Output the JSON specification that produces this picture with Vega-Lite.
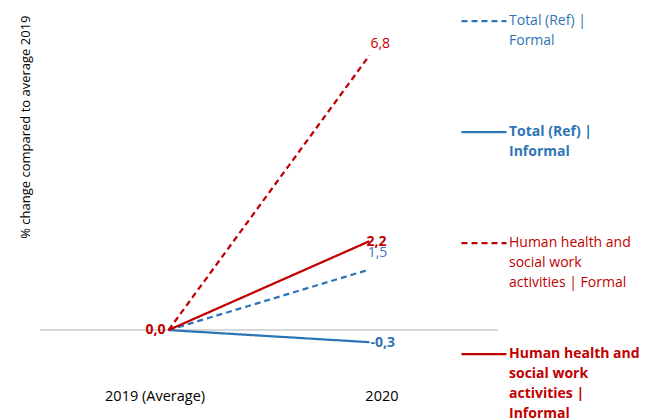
{
  "$schema": "https://vega.github.io/schema/vega-lite/v6.json",
  "width": 458,
  "height": 349,
  "autosize": "none",
  "padding": {"left": 40, "top": 15, "right": 160, "bottom": 55},
  "background": "white",
  "config": {"view": {"stroke": null}, "font": "Open Sans"},
  "data": {
    "values": [
      {"series": "Total (Ref) | Formal", "year": "2019 (Average)", "value": 0, "label": "0,0"},
      {"series": "Total (Ref) | Formal", "year": "2020", "value": 1.5, "label": "1,5"},
      {"series": "Total (Ref) | Informal", "year": "2019 (Average)", "value": 0, "label": "0,0"},
      {"series": "Total (Ref) | Informal", "year": "2020", "value": -0.3, "label": "-0,3"},
      {"series": "Human health and social work activities | Formal", "year": "2019 (Average)", "value": 0, "label": "0,0"},
      {"series": "Human health and social work activities | Formal", "year": "2020", "value": 6.8, "label": "6,8"},
      {"series": "Human health and social work activities | Informal", "year": "2019 (Average)", "value": 0, "label": "0,0"},
      {"series": "Human health and social work activities | Informal", "year": "2020", "value": 2.2, "label": "2,2"}
    ]
  },
  "layer": [
    {
      "mark": {"type": "rule", "color": "#d9d9d9", "strokeWidth": 1},
      "encoding": {"y": {"datum": 0, "type": "quantitative", "scale": {"domain": [-0.84, 7.8], "nice": false, "zero": false}}}
    },
    {
      "mark": {"type": "line", "strokeCap": "butt"},
      "encoding": {
        "x": {"field": "year", "type": "ordinal", "sort": ["2019 (Average)", "2020"], "scale": {"type": "point", "padding": 0.64},
          "axis": {"title": null, "labelAngle": 0, "ticks": false, "domain": false, "labelPadding": 25, "labelFontSize": 14.5, "labelColor": "#000", "labelFont": "Open Sans",
            "labelOffset": {"condition": {"test": "datum.value == '2020'", "value": 12}, "value": -14}}},
        "y": {"field": "value", "type": "quantitative", "scale": {"domain": [-0.84, 7.8], "nice": false, "zero": false},
          "axis": {"title": "% change compared to average 2019", "labels": false, "ticks": false, "domain": false, "grid": false, "titleFontSize": 13, "titleFontWeight": "normal", "titlePadding": 8, "titleAnchor": "end", "titleColor": "#000", "titleFont": "Open Sans"}},
        "color": {"field": "series", "type": "nominal",
          "scale": {"domain": ["Total (Ref) | Formal", "Total (Ref) | Informal", "Human health and social work activities | Formal", "Human health and social work activities | Informal"], "range": ["#2E75B6", "#2E75B6", "#C00000", "#C00000"]},
          "legend": {
            "orient": "none", "legendX": 420, "legendY": -18, "title": null, "padding": 0,
            "symbolType": "stroke", "symbolSize": 2025, "symbolStrokeWidth": 2.25,
            "labelFontSize": 14, "labelFont": "Open Sans", "labelLimit": 0, "labelOffset": 1,
            "gridAlign": "all", "rowPadding": 20, "labelBaseline": "top",
            "labelExpr": "datum.value == 'Total (Ref) | Formal' ? ['Total (Ref) |', 'Formal'] : datum.value == 'Total (Ref) | Informal' ? ['Total (Ref) |', 'Informal'] : datum.value == 'Human health and social work activities | Formal' ? ['Human health and', 'social work', 'activities | Formal'] : ['Human health and', 'social work', 'activities |', 'Informal']",
            "encode": {
              "labels": {"update": {
                "fill": {"signal": "indexof(datum.value, 'Total') == 0 ? '#2E75B6' : '#C00000'"},
                "fontWeight": {"signal": "indexof(datum.value, 'Informal') >= 0 ? 'bold' : 'normal'"},
                "lineHeight": {"value": 20},
                "dy": {"value": -7}
              }},
              "symbols": {"update": {
                "strokeWidth": {"signal": "datum.value == 'Human health and social work activities | Informal' ? 3 : 2.25"}
              }}
            }
          }},
        "strokeDash": {"field": "series", "type": "nominal",
          "scale": {"domain": ["Total (Ref) | Formal", "Total (Ref) | Informal", "Human health and social work activities | Formal", "Human health and social work activities | Informal"], "range": [[6, 4], [1, 0], [6, 4], [1, 0]]}, "legend": null},
        "strokeWidth": {"field": "series", "type": "nominal",
          "scale": {"domain": ["Total (Ref) | Formal", "Total (Ref) | Informal", "Human health and social work activities | Formal", "Human health and social work activities | Informal"], "range": [2.25, 2.25, 2.25, 3]}, "legend": null}
      }
    },
    {
      "transform": [{"filter": "datum.series == 'Human health and social work activities | Informal' && datum.year == '2019 (Average)'"}],
      "mark": {"type": "text", "align": "right", "baseline": "middle", "dx": -3, "fontSize": 14, "fontWeight": "bold", "color": "#C00000"},
      "encoding": {"x": {"field": "year", "type": "ordinal", "sort": ["2019 (Average)", "2020"]}, "y": {"field": "value", "type": "quantitative"}, "text": {"field": "label"}}
    },
    {
      "transform": [{"filter": "datum.series == 'Human health and social work activities | Formal' && datum.year == '2020'"}],
      "mark": {"type": "text", "align": "left", "baseline": "middle", "dx": 1, "dy": -11, "fontSize": 14, "color": "#C00000"},
      "encoding": {"x": {"field": "year", "type": "ordinal", "sort": ["2019 (Average)", "2020"]}, "y": {"field": "value", "type": "quantitative"}, "text": {"field": "label"}}
    },
    {
      "transform": [{"filter": "datum.series == 'Total (Ref) | Formal' && datum.year == '2020'"}],
      "mark": {"type": "text", "align": "center", "baseline": "middle", "dx": 8, "dy": -16, "fontSize": 14, "color": "#4472C4"},
      "encoding": {"x": {"field": "year", "type": "ordinal", "sort": ["2019 (Average)", "2020"]}, "y": {"field": "value", "type": "quantitative"}, "text": {"field": "label"}}
    },
    {
      "transform": [{"filter": "datum.series == 'Human health and social work activities | Informal' && datum.year == '2020'"}],
      "mark": {"type": "text", "align": "center", "baseline": "middle", "dx": 7, "dy": 1, "fontSize": 14, "fontWeight": "bold", "color": "#C00000"},
      "encoding": {"x": {"field": "year", "type": "ordinal", "sort": ["2019 (Average)", "2020"]}, "y": {"field": "value", "type": "quantitative"}, "text": {"field": "label"}}
    },
    {
      "transform": [{"filter": "datum.series == 'Total (Ref) | Informal' && datum.year == '2020'"}],
      "mark": {"type": "text", "align": "left", "baseline": "middle", "dx": 1, "dy": 1, "fontSize": 14, "fontWeight": "bold", "color": "#2E75B6"},
      "encoding": {"x": {"field": "year", "type": "ordinal", "sort": ["2019 (Average)", "2020"]}, "y": {"field": "value", "type": "quantitative"}, "text": {"field": "label"}}
    }
  ]
}
